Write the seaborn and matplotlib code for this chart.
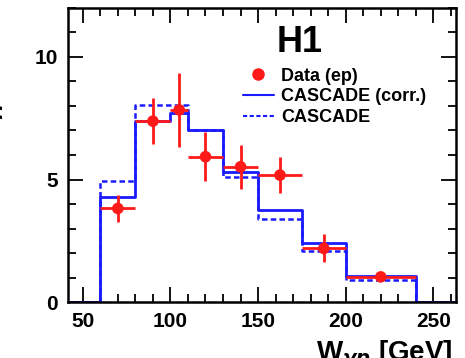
import numpy as np
import matplotlib
matplotlib.use("Agg")
import matplotlib.pyplot as plt
import seaborn as sns
from matplotlib.ticker import MultipleLocator
from matplotlib.lines import Line2D

# bin edges of W_gp (GeV)
bin_edges = [60, 80, 100, 110, 130, 150, 175, 200, 240]
cascade_corr = [4.3, 7.4, 7.7, 7.0, 5.3, 3.75, 2.43, 1.07]
cascade = [4.95, 8.05, 8.05, 7.0, 5.1, 3.38, 2.07, 0.89]

data_x = [70, 90, 105, 120, 140, 162.5, 187.5, 220]
data_y = [3.82, 7.38, 7.84, 5.93, 5.52, 5.18, 2.19, 1.03]
data_err = [0.55, 0.95, 1.5, 1.0, 0.9, 0.72, 0.57, 0.15]

sns.set_style("ticks", {"axes.edgecolor": "black", "text.color": "black",
                        "xtick.color": "black", "ytick.color": "black"})
plt.rcParams["font.family"] = ["Liberation Sans", "DejaVu Sans"]
plt.rcParams["font.weight"] = "bold"

fig, ax = plt.subplots(figsize=(4.65, 3.58), dpi=100)
fig.subplots_adjust(left=0.146, right=0.981, bottom=0.156, top=0.978)

# pad with empty bins so the outline drops back to zero
edges = [40] + bin_edges + [265]
lo = np.array(edges[:-1])
hi = np.array(edges[1:])
centers = (lo + hi) / 2
sns.histplot(x=centers, weights=[0] + cascade + [0], bins=edges, element="step",
             fill=False, color="#1a1aff", linestyle=(0, (2.2, 1.3)), linewidth=1.8, ax=ax)
sns.histplot(x=centers, weights=[0] + cascade_corr + [0], bins=edges, element="step",
             fill=False, color="#1a1aff", linewidth=2.0, ax=ax)

xl = np.array(data_x) - np.array(bin_edges[:-1])
xh = np.array(bin_edges[1:]) - np.array(data_x)
ax.errorbar(data_x, data_y, yerr=data_err, xerr=[xl, xh], fmt="none",
            ecolor="#ff1a1a", elinewidth=2, capsize=0, zorder=4)
sns.scatterplot(x=data_x, y=data_y, color="#ff1a1a", s=70, edgecolor="none",
                zorder=5, ax=ax)

ax.set_xlim(41.5, 263)
ax.set_ylim(0, 12)
ax.xaxis.set_major_locator(MultipleLocator(50))
ax.xaxis.set_minor_locator(MultipleLocator(10))
ax.yaxis.set_major_locator(MultipleLocator(5))
ax.yaxis.set_minor_locator(MultipleLocator(1))
ax.tick_params(which="both", direction="in", top=True, right=True, width=1.3,
               labelsize=15, colors="black")
ax.tick_params(which="major", length=11)
ax.tick_params(which="minor", length=6)
ax.tick_params(axis="x", pad=7)
ax.tick_params(axis="y", pad=7)
for lab in ax.get_xticklabels() + ax.get_yticklabels():
    lab.set_fontweight("bold")
for sp in ax.spines.values():
    sp.set_linewidth(1.8)
    sp.set_color("black")
ax.set_xlabel("")
ax.set_ylabel("")

fig.text(0.973, -0.035, r"W$_{\gamma p}$ [GeV]", ha="right", va="bottom",
         fontsize=20, fontweight="bold", color="black")
fig.text(0.012, 0.745, r"d$\sigma$/dW$_{\gamma p}$ [pb/GeV]", rotation=90,
         ha="right", va="center", fontsize=20, fontweight="bold", color="black")

ax.text(0.598, 0.85, "H1", transform=ax.transAxes, ha="center", va="baseline",
        fontsize=26, fontweight="bold", color="black")

handles = [
    Line2D([], [], marker="o", color="#ff1a1a", linestyle="none", markersize=8),
    Line2D([], [], color="#1a1aff", linewidth=1.5),
    Line2D([], [], color="#1a1aff", linewidth=1.5, linestyle=(0, (2, 1.2))),
]
labels = ["Data (ep)", "CASCADE (corr.)", "CASCADE"]
ax.legend(handles, labels, loc="upper left", bbox_to_anchor=(0.451, 0.797),
          frameon=False, handlelength=1.7, handletextpad=0.4, labelspacing=0.2,
          borderpad=0, borderaxespad=0, labelcolor="black",
          prop={"size": 13, "weight": "bold"})

fig.savefig("out.png", dpi=100)
